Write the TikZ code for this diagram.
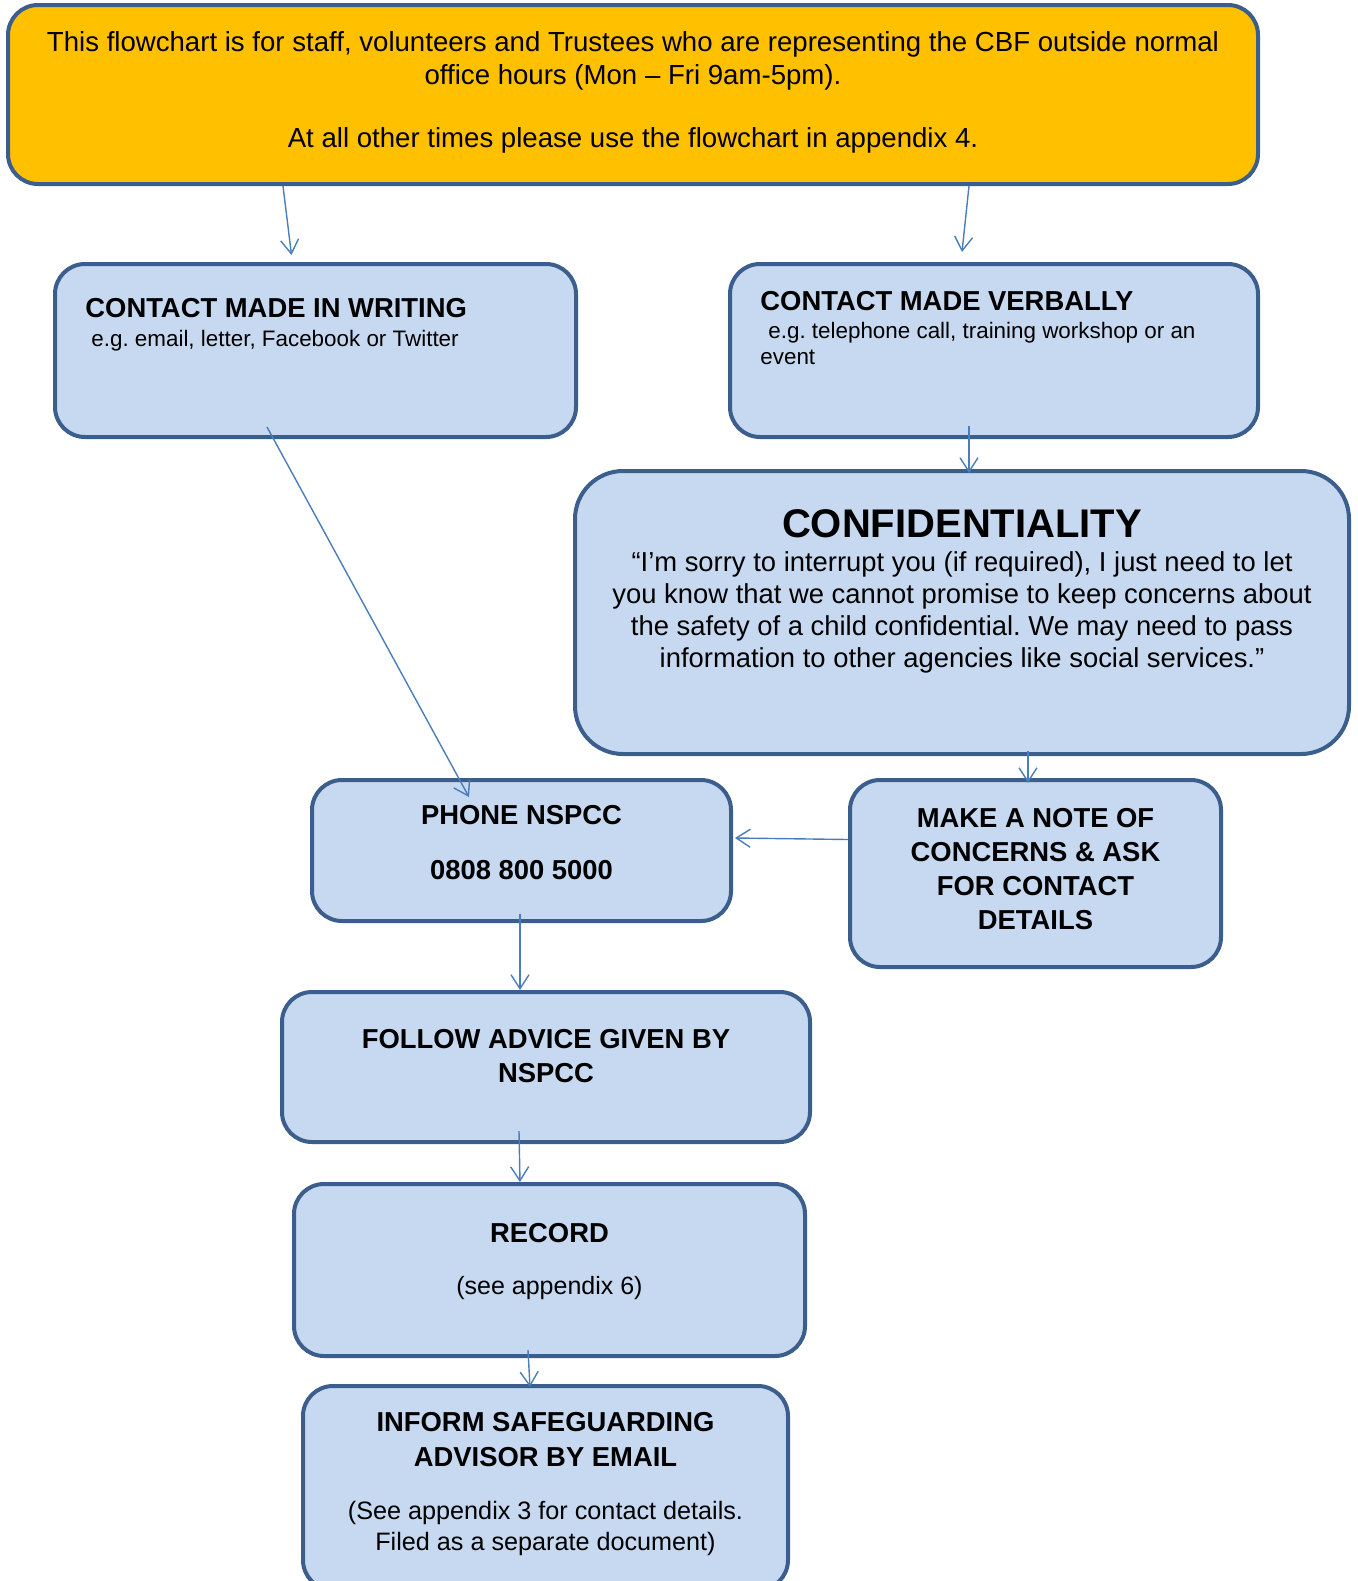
\documentclass[tikz,border=0pt]{standalone}
\usepackage{fontspec}
\setmainfont{Liberation Sans}
\usetikzlibrary{arrows.meta, positioning}
\frenchspacing
\definecolor{boxline}{HTML}{3B5E8C}
\definecolor{boxfill}{HTML}{C6D9F0}
\definecolor{introfill}{HTML}{FFC000}
\definecolor{arrowblue}{HTML}{4A7EBB}
\tikzset{
  box/.style={rectangle, draw=boxline, fill=boxfill, line width=2pt,
              rounded corners=15pt, inner sep=0pt},
  introbox/.style={box, fill=introfill},
  plain/.style={inner sep=0pt, align=center, font=\fontsize{13.8}{16.5}\selectfont},
  heading/.style={plain, font=\bfseries\fontsize{13.7}{17}\selectfont},
  subtext/.style={inner sep=0pt, align=left, font=\fontsize{11.2}{13}\selectfont},
  arrow/.style={-{Straight Barb[length=7pt, width=9pt]}, line width=0.7pt, color=arrowblue},
}
\begin{document}
\begin{tikzpicture}[x=0.5pt, y=-0.5pt]
  \useasboundingbox (0,0) rectangle (1358,1581);
  % boxes
  \node[introbox, minimum width=625pt, minimum height=89.5pt] (intro) at (633,94.5) {};
  \node[box, minimum width=260.5pt, minimum height=86.5pt] (writing) at (315.5,350.5) {};
  \node[box, minimum width=264pt, minimum height=86.5pt] (verbal) at (994,350.5) {};
  \node[box, rounded corners=24pt, minimum width=387pt, minimum height=141.5pt] (conf) at (962,612.5) {};
  \node[box, minimum width=209.5pt, minimum height=70.5pt] (phone) at (521.5,850.5) {};
  \node[box, minimum width=185.5pt, minimum height=93.5pt] (note) at (1035.5,873.5) {};
  \node[box, minimum width=264pt, minimum height=75pt] (follow) at (546,1067) {};
  \node[box, minimum width=255.5pt, minimum height=86pt] (record) at (549.5,1270) {};
  \node[box, minimum width=242.5pt, minimum height=102pt] (inform) at (545.5,1488) {};
  % texts
  \node[plain] (intro-text) at (633,92)
    {This flowchart is for staff, volunteers and Trustees who are representing the CBF outside normal\\
     office hours (Mon – Fri 9am-5pm).\\[15pt]
     At all other times please use the flowchart in appendix 4.};
  \node[heading, anchor=west] (writing-title) at (85,308) {CONTACT MADE IN WRITING};
  \node[subtext, anchor=west] (writing-sub) at (91,341) {e.g. email, letter, Facebook or Twitter};
  \node[heading, anchor=west] (verbal-title) at (760,301) {CONTACT MADE VERBALLY};
  \node[subtext, anchor=north west] (verbal-sub) at (760,322)
    {\hspace{4pt}e.g. telephone call, training workshop or an\\event};
  \node[plain, font=\bfseries\fontsize{20}{24}\selectfont] (conf-title) at (962,524) {CONFIDENTIALITY};
  \node[plain, font=\fontsize{13.7}{16}\selectfont] (conf-text) at (962,612)
    {“I’m sorry to interrupt you (if required), I just need to let\\
     you know that we cannot promise to keep concerns about\\
     the safety of a child confidential. We may need to pass\\
     information to other agencies like social services.”};
  \node[heading] (phone-text) at (521.5,843) {PHONE NSPCC\\[10.5pt]0808 800 5000};
  \node[heading] (note-text) at (1035.5,869.5) {MAKE A NOTE OF\\CONCERNS \& ASK\\FOR CONTACT\\DETAILS};
  \node[heading] (follow-text) at (546,1056) {FOLLOW ADVICE GIVEN BY\\NSPCC};
  \node[heading] (record-title) at (549.5,1233) {RECORD};
  \node[plain, font=\fontsize{12.5}{15}\selectfont] (record-sub) at (549.5,1288) {(see appendix 6)};
  \node[heading, font=\bfseries\fontsize{13.7}{17.5}\selectfont] (inform-title) at (545.5,1439.5)
    {INFORM SAFEGUARDING\\ADVISOR BY EMAIL};
  \node[plain, font=\fontsize{12.6}{15.5}\selectfont] (inform-sub) at (545.5,1528)
    {(See appendix 3 for contact details.\\Filed as a separate document)};
  % connectors
  \draw[arrow] ([xshift=-175pt]intro.south) -- ([xshift=-12pt, yshift=3.5pt]writing.north);
  \draw[arrow] ([xshift=168pt]intro.south) -- ([xshift=-16pt, yshift=5pt]verbal.north);
  \draw[arrow] ([xshift=-24.25pt, yshift=6pt]writing.south) -- ([xshift=-26.25pt, yshift=-9.5pt]phone.north);
  \draw[arrow] ([xshift=-12.5pt, yshift=6.5pt]verbal.south) -- ([xshift=3.5pt, yshift=-2pt]conf.north);
  \draw[arrow] ([xshift=33pt, yshift=2.5pt]conf.south) -- ([xshift=-3.75pt, yshift=-2.5pt]note.north);
  \draw[arrow] ([yshift=17pt]note.west) -- ([xshift=1pt, yshift=6.25pt]phone.east);
  \draw[arrow] ([xshift=-0.75pt, yshift=4.5pt]phone.south) -- ([xshift=-13pt]follow.north);
  \draw[arrow] ([xshift=-13.5pt, yshift=6.5pt]follow.south) -- ([xshift=-14.75pt]record.north);
  \draw[arrow] ([xshift=-10.75pt, yshift=4pt]record.south) -- ([xshift=-7.75pt, yshift=-1.5pt]inform.north);
\end{tikzpicture}
\end{document}
